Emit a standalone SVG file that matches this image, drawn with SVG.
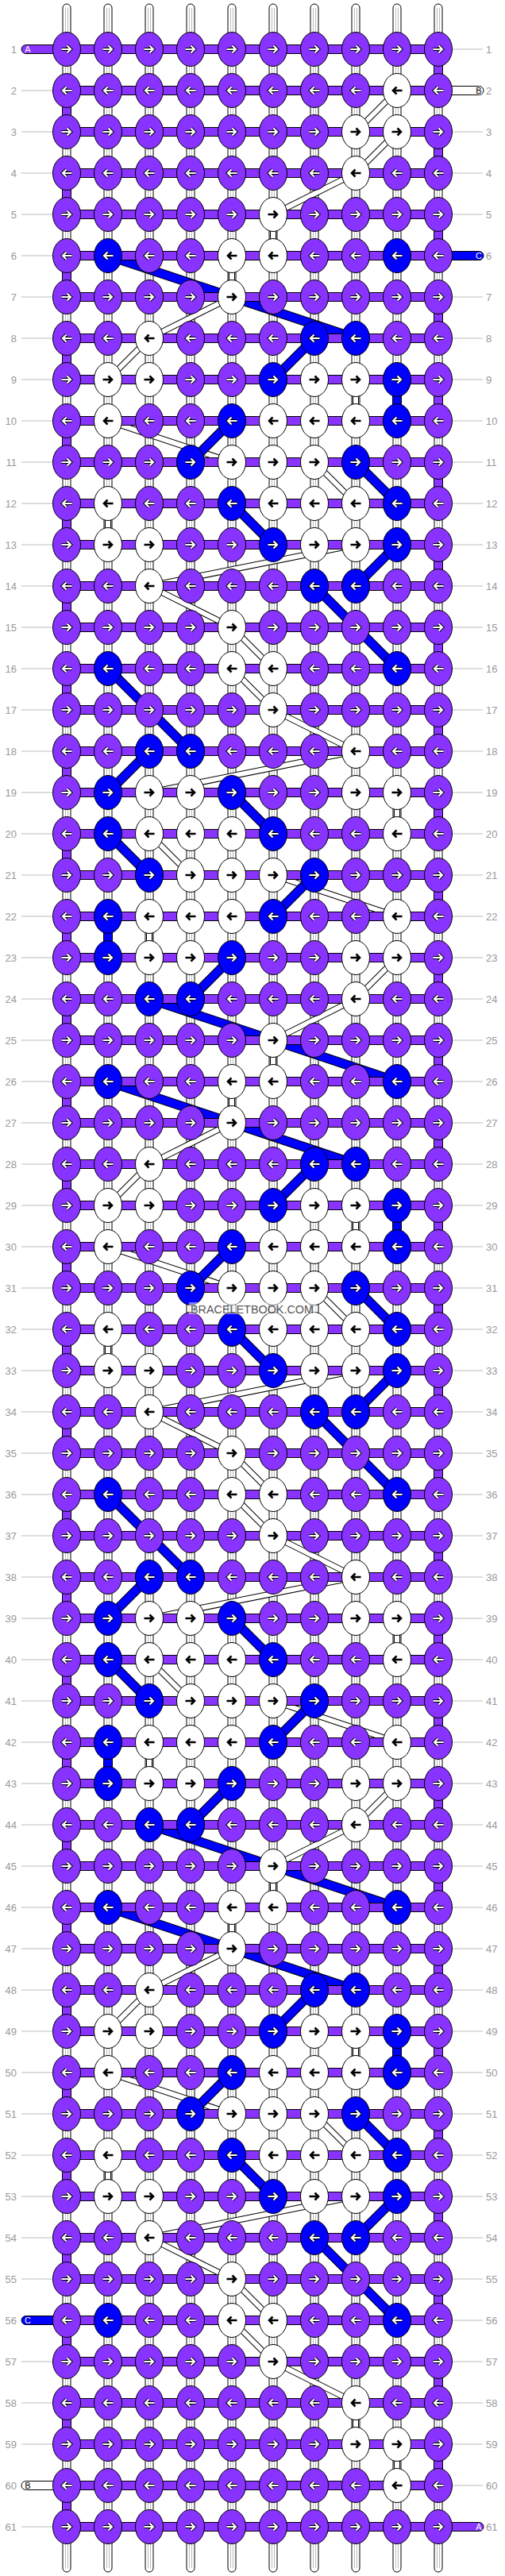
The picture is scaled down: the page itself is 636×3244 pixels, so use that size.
<svg xmlns="http://www.w3.org/2000/svg" width="636" height="3244" viewBox="0 0 636 3244">
<style>
.kp{fill:#8833ff;stroke:#000;stroke-width:1}
.kw{fill:#fff;stroke:#000;stroke-width:1}
.kb{fill:#0000ff;stroke:#000;stroke-width:1}
.ao{fill:none;stroke:#000;stroke-width:4.2}
.ai{fill:none;stroke:#fff;stroke-width:2.2}
.ab{fill:none;stroke:#000;stroke-width:2.6}
.st{fill:#fff;stroke:#000;stroke-width:1}
.sg{fill:none;stroke:#bbb;stroke-width:1}
.ln{font-family:"Liberation Sans",Arial,sans-serif;font-size:13px;fill:#999;text-anchor:end}
.rn{text-anchor:start}
.gl{fill:none;stroke:#bbb;stroke-width:1}
.tl{font-family:"Liberation Sans",Arial,sans-serif;font-size:11px;text-anchor:middle}
</style>
<defs>
<path id="ar" d="M-6.5,0H4.5M0.5,-4.5L5,0L0.5,4.5"/>
<path id="al" d="M6.5,0H-4.5M-0.5,-4.5L-5,0L-0.5,4.5"/>
<g id="pR"><ellipse rx="17.5" ry="21.5" class="kp"/><use href="#ar" class="ao"/><use href="#ar" class="ai"/></g>
<g id="pL"><ellipse rx="17.5" ry="21.5" class="kp"/><use href="#al" class="ao"/><use href="#al" class="ai"/></g>
<g id="bR"><ellipse rx="17.5" ry="21.5" class="kb"/><use href="#ar" class="ao"/><use href="#ar" class="ai"/></g>
<g id="bL"><ellipse rx="17.5" ry="21.5" class="kb"/><use href="#al" class="ao"/><use href="#al" class="ai"/></g>
<g id="wR"><ellipse rx="17.5" ry="21.5" class="kw"/><use href="#ar" class="ab"/></g>
<g id="wL"><ellipse rx="17.5" ry="21.5" class="kw"/><use href="#al" class="ab"/></g>
</defs>
<rect width="636" height="3244" fill="#fff"/>
<g id="strands">
<rect x="79" y="5" width="10" height="3234" rx="5" class="st"/>
<rect x="131" y="5" width="10" height="3234" rx="5" class="st"/>
<rect x="183" y="5" width="10" height="3234" rx="5" class="st"/>
<rect x="235" y="5" width="10" height="3234" rx="5" class="st"/>
<rect x="287" y="5" width="10" height="3234" rx="5" class="st"/>
<rect x="339" y="5" width="10" height="3234" rx="5" class="st"/>
<rect x="391" y="5" width="10" height="3234" rx="5" class="st"/>
<rect x="443" y="5" width="10" height="3234" rx="5" class="st"/>
<rect x="495" y="5" width="10" height="3234" rx="5" class="st"/>
<rect x="547" y="5" width="10" height="3234" rx="5" class="st"/>
<path class="sg" d="M82.5,10V3234M85.5,10V3234M134.5,10V3234M137.5,10V3234M186.5,10V3234M189.5,10V3234M238.5,10V3234M241.5,10V3234M290.5,10V3234M293.5,10V3234M342.5,10V3234M345.5,10V3234M394.5,10V3234M397.5,10V3234M446.5,10V3234M449.5,10V3234M498.5,10V3234M501.5,10V3234M550.5,10V3234M553.5,10V3234"/>
</g>
<g id="connectors">
<path id="edgeO" fill="none" stroke="#000" stroke-width="12" d="M552,80v16M84,132v16M552,184v16M84,236v16M552,288v16M84,340v16M552,392v16M84,444v16M552,496v16M84,548v16M552,600v16M84,652v16M552,704v16M84,756v16M552,808v16M84,860v16M552,912v16M84,964v16M552,1016v16M84,1068v16M552,1120v16M84,1172v16M552,1224v16M84,1276v16M552,1328v16M84,1380v16M552,1432v16M84,1484v16M552,1536v16M84,1588v16M552,1640v16M84,1692v16M552,1744v16M84,1796v16M552,1848v16M84,1900v16M552,1952v16M84,2004v16M552,2056v16M84,2108v16M552,2160v16M84,2212v16M552,2264v16M84,2316v16M552,2368v16M84,2420v16M552,2472v16M84,2524v16M552,2576v16M84,2628v16M552,2680v16M84,2732v16M552,2784v16M84,2836v16M552,2888v16M84,2940v16M552,2992v16M84,3044v16M552,3096v16M84,3148v16"/>
<path id="edgeI" fill="none" stroke="#8833ff" stroke-width="10" d="M552,80v16M84,132v16M552,184v16M84,236v16M552,288v16M84,340v16M552,392v16M84,444v16M552,496v16M84,548v16M552,600v16M84,652v16M552,704v16M84,756v16M552,808v16M84,860v16M552,912v16M84,964v16M552,1016v16M84,1068v16M552,1120v16M84,1172v16M552,1224v16M84,1276v16M552,1328v16M84,1380v16M552,1432v16M84,1484v16M552,1536v16M84,1588v16M552,1640v16M84,1692v16M552,1744v16M84,1796v16M552,1848v16M84,1900v16M552,1952v16M84,2004v16M552,2056v16M84,2108v16M552,2160v16M84,2212v16M552,2264v16M84,2316v16M552,2368v16M84,2420v16M552,2472v16M84,2524v16M552,2576v16M84,2628v16M552,2680v16M84,2732v16M552,2784v16M84,2836v16M552,2888v16M84,2940v16M552,2992v16M84,3044v16M552,3096v16M84,3148v16"/>
<path id="floatW" fill="none" d="M500,114L448,166M500,166L448,218M448,218L344,270M344,270L344,322M292,322L292,374M292,374L188,426M188,426L136,478M448,478L448,530M136,530L292,582M396,582L448,634M136,634L136,686M448,686L188,738M188,738L292,790M292,790L344,842M292,842L344,894M344,894L448,946M448,946L188,998M500,998L500,1050M188,1050L240,1102M344,1102L500,1154M188,1154L188,1206M500,1206L448,1258M448,1258L344,1310M344,1310L344,1362M292,1362L292,1414M292,1414L188,1466M188,1466L136,1518M448,1518L448,1570M136,1570L292,1622M396,1622L448,1674M136,1674L136,1726M448,1726L188,1778M188,1778L292,1830M292,1830L344,1882M292,1882L344,1934M344,1934L448,1986M448,1986L188,2038M500,2038L500,2090M188,2090L240,2142M344,2142L500,2194M188,2194L188,2246M500,2246L448,2298M448,2298L344,2350M344,2350L344,2402M292,2402L292,2454M292,2454L188,2506M188,2506L136,2558M448,2558L448,2610M136,2610L292,2662M396,2662L448,2714M136,2714L136,2766M448,2766L188,2818M188,2818L292,2870M292,2870L344,2922M292,2922L344,2974M344,2974L448,3026M448,3026L448,3078M500,3078L500,3130"/>
<use href="#floatW" stroke="#000" stroke-width="8"/>
<use href="#floatW" stroke="#fff" stroke-width="6"/>
<path id="floatB" fill="none" d="M136,322L448,426M396,426L344,478M500,478L500,530M292,530L240,582M448,582L500,634M292,634L344,686M500,686L448,738M396,738L500,842M136,842L240,946M188,946L136,998M292,998L344,1050M136,1050L188,1102M396,1102L344,1154M136,1154L136,1206M292,1206L240,1258M188,1258L500,1362M136,1362L448,1466M396,1466L344,1518M500,1518L500,1570M292,1570L240,1622M448,1622L500,1674M292,1674L344,1726M500,1726L448,1778M396,1778L500,1882M136,1882L240,1986M188,1986L136,2038M292,2038L344,2090M136,2090L188,2142M396,2142L344,2194M136,2194L136,2246M292,2246L240,2298M188,2298L500,2402M136,2402L448,2506M396,2506L344,2558M500,2558L500,2610M292,2610L240,2662M448,2662L500,2714M292,2714L344,2766M500,2766L448,2818M396,2818L500,2922"/>
<use href="#floatB" stroke="#000" stroke-width="12"/>
<use href="#floatB" stroke="#0000ff" stroke-width="10"/>
<path id="bars" fill="none" d="M84,62H552M84,114H552M84,166H552M84,218H552M84,270H552M84,322H552M84,374H552M84,426H552M84,478H552M84,530H552M84,582H552M84,634H552M84,686H552M84,738H552M84,790H552M84,842H552M84,894H552M84,946H552M84,998H552M84,1050H552M84,1102H552M84,1154H552M84,1206H552M84,1258H552M84,1310H552M84,1362H552M84,1414H552M84,1466H552M84,1518H552M84,1570H552M84,1622H552M84,1674H552M84,1726H552M84,1778H552M84,1830H552M84,1882H552M84,1934H552M84,1986H552M84,2038H552M84,2090H552M84,2142H552M84,2194H552M84,2246H552M84,2298H552M84,2350H552M84,2402H552M84,2454H552M84,2506H552M84,2558H552M84,2610H552M84,2662H552M84,2714H552M84,2766H552M84,2818H552M84,2870H552M84,2922H552M84,2974H552M84,3026H552M84,3078H552M84,3130H552M84,3182H552"/>
<use href="#bars" stroke="#000" stroke-width="12"/>
<use href="#bars" stroke="#8833ff" stroke-width="10"/>
</g>
<g id="tabs">
<g id="tabA1"><rect x="27" y="56.5" width="62" height="11" rx="5.5" class="kp"/><text x="35" y="66" class="tl" fill="#fff">A</text></g>
<g id="tabB2"><rect x="547" y="108.5" width="62" height="11" rx="5.5" class="kw"/><text x="603" y="118" class="tl" fill="#000">B</text></g>
<g id="tabC6"><rect x="547" y="316.5" width="62" height="11" rx="5.5" class="kb"/><text x="603" y="326" class="tl" fill="#fff">C</text></g>
<g id="tabC56"><rect x="27" y="2916.5" width="62" height="11" rx="5.5" class="kb"/><text x="35" y="2926" class="tl" fill="#fff">C</text></g>
<g id="tabB60"><rect x="27" y="3124.5" width="62" height="11" rx="5.5" class="kw"/><text x="35" y="3134" class="tl" fill="#000">B</text></g>
<g id="tabA61"><rect x="547" y="3176.5" width="62" height="11" rx="5.5" class="kp"/><text x="603" y="3186" class="tl" fill="#fff">A</text></g>
</g>
<g id="knots">
<g id="r1" transform="translate(0,62)"><g id="k1-1"><use href="#pR" x="84"/></g><g id="k1-2"><use href="#pR" x="136"/></g><g id="k1-3"><use href="#pR" x="188"/></g><g id="k1-4"><use href="#pR" x="240"/></g><g id="k1-5"><use href="#pR" x="292"/></g><g id="k1-6"><use href="#pR" x="344"/></g><g id="k1-7"><use href="#pR" x="396"/></g><g id="k1-8"><use href="#pR" x="448"/></g><g id="k1-9"><use href="#pR" x="500"/></g><g id="k1-10"><use href="#pR" x="552"/></g></g>
<g id="r2" transform="translate(0,114)"><g id="k2-1"><use href="#pL" x="84"/></g><g id="k2-2"><use href="#pL" x="136"/></g><g id="k2-3"><use href="#pL" x="188"/></g><g id="k2-4"><use href="#pL" x="240"/></g><g id="k2-5"><use href="#pL" x="292"/></g><g id="k2-6"><use href="#pL" x="344"/></g><g id="k2-7"><use href="#pL" x="396"/></g><g id="k2-8"><use href="#pL" x="448"/></g><g id="k2-9"><use href="#wL" x="500"/></g><g id="k2-10"><use href="#pL" x="552"/></g></g>
<g id="r3" transform="translate(0,166)"><g id="k3-1"><use href="#pR" x="84"/></g><g id="k3-2"><use href="#pR" x="136"/></g><g id="k3-3"><use href="#pR" x="188"/></g><g id="k3-4"><use href="#pR" x="240"/></g><g id="k3-5"><use href="#pR" x="292"/></g><g id="k3-6"><use href="#pR" x="344"/></g><g id="k3-7"><use href="#pR" x="396"/></g><g id="k3-8"><use href="#wR" x="448"/></g><g id="k3-9"><use href="#wR" x="500"/></g><g id="k3-10"><use href="#pR" x="552"/></g></g>
<g id="r4" transform="translate(0,218)"><g id="k4-1"><use href="#pL" x="84"/></g><g id="k4-2"><use href="#pL" x="136"/></g><g id="k4-3"><use href="#pL" x="188"/></g><g id="k4-4"><use href="#pL" x="240"/></g><g id="k4-5"><use href="#pL" x="292"/></g><g id="k4-6"><use href="#pL" x="344"/></g><g id="k4-7"><use href="#pL" x="396"/></g><g id="k4-8"><use href="#wL" x="448"/></g><g id="k4-9"><use href="#pL" x="500"/></g><g id="k4-10"><use href="#pL" x="552"/></g></g>
<g id="r5" transform="translate(0,270)"><g id="k5-1"><use href="#pR" x="84"/></g><g id="k5-2"><use href="#pR" x="136"/></g><g id="k5-3"><use href="#pR" x="188"/></g><g id="k5-4"><use href="#pR" x="240"/></g><g id="k5-5"><use href="#pR" x="292"/></g><g id="k5-6"><use href="#wR" x="344"/></g><g id="k5-7"><use href="#pR" x="396"/></g><g id="k5-8"><use href="#pR" x="448"/></g><g id="k5-9"><use href="#pR" x="500"/></g><g id="k5-10"><use href="#pR" x="552"/></g></g>
<g id="r6" transform="translate(0,322)"><g id="k6-1"><use href="#pL" x="84"/></g><g id="k6-2"><use href="#bL" x="136"/></g><g id="k6-3"><use href="#pL" x="188"/></g><g id="k6-4"><use href="#pL" x="240"/></g><g id="k6-5"><use href="#wL" x="292"/></g><g id="k6-6"><use href="#wL" x="344"/></g><g id="k6-7"><use href="#pL" x="396"/></g><g id="k6-8"><use href="#pL" x="448"/></g><g id="k6-9"><use href="#bL" x="500"/></g><g id="k6-10"><use href="#pL" x="552"/></g></g>
<g id="r7" transform="translate(0,374)"><g id="k7-1"><use href="#pR" x="84"/></g><g id="k7-2"><use href="#pR" x="136"/></g><g id="k7-3"><use href="#pR" x="188"/></g><g id="k7-4"><use href="#pR" x="240"/></g><g id="k7-5"><use href="#wR" x="292"/></g><g id="k7-6"><use href="#pR" x="344"/></g><g id="k7-7"><use href="#pR" x="396"/></g><g id="k7-8"><use href="#pR" x="448"/></g><g id="k7-9"><use href="#pR" x="500"/></g><g id="k7-10"><use href="#pR" x="552"/></g></g>
<g id="r8" transform="translate(0,426)"><g id="k8-1"><use href="#pL" x="84"/></g><g id="k8-2"><use href="#pL" x="136"/></g><g id="k8-3"><use href="#wL" x="188"/></g><g id="k8-4"><use href="#pL" x="240"/></g><g id="k8-5"><use href="#pL" x="292"/></g><g id="k8-6"><use href="#pL" x="344"/></g><g id="k8-7"><use href="#bL" x="396"/></g><g id="k8-8"><use href="#bL" x="448"/></g><g id="k8-9"><use href="#pL" x="500"/></g><g id="k8-10"><use href="#pL" x="552"/></g></g>
<g id="r9" transform="translate(0,478)"><g id="k9-1"><use href="#pR" x="84"/></g><g id="k9-2"><use href="#wR" x="136"/></g><g id="k9-3"><use href="#wR" x="188"/></g><g id="k9-4"><use href="#pR" x="240"/></g><g id="k9-5"><use href="#pR" x="292"/></g><g id="k9-6"><use href="#bR" x="344"/></g><g id="k9-7"><use href="#wR" x="396"/></g><g id="k9-8"><use href="#wR" x="448"/></g><g id="k9-9"><use href="#bR" x="500"/></g><g id="k9-10"><use href="#pR" x="552"/></g></g>
<g id="r10" transform="translate(0,530)"><g id="k10-1"><use href="#pL" x="84"/></g><g id="k10-2"><use href="#wL" x="136"/></g><g id="k10-3"><use href="#pL" x="188"/></g><g id="k10-4"><use href="#pL" x="240"/></g><g id="k10-5"><use href="#bL" x="292"/></g><g id="k10-6"><use href="#wL" x="344"/></g><g id="k10-7"><use href="#wL" x="396"/></g><g id="k10-8"><use href="#wL" x="448"/></g><g id="k10-9"><use href="#bL" x="500"/></g><g id="k10-10"><use href="#pL" x="552"/></g></g>
<g id="r11" transform="translate(0,582)"><g id="k11-1"><use href="#pR" x="84"/></g><g id="k11-2"><use href="#pR" x="136"/></g><g id="k11-3"><use href="#pR" x="188"/></g><g id="k11-4"><use href="#bR" x="240"/></g><g id="k11-5"><use href="#wR" x="292"/></g><g id="k11-6"><use href="#wR" x="344"/></g><g id="k11-7"><use href="#wR" x="396"/></g><g id="k11-8"><use href="#bR" x="448"/></g><g id="k11-9"><use href="#pR" x="500"/></g><g id="k11-10"><use href="#pR" x="552"/></g></g>
<g id="r12" transform="translate(0,634)"><g id="k12-1"><use href="#pL" x="84"/></g><g id="k12-2"><use href="#wL" x="136"/></g><g id="k12-3"><use href="#pL" x="188"/></g><g id="k12-4"><use href="#pL" x="240"/></g><g id="k12-5"><use href="#bL" x="292"/></g><g id="k12-6"><use href="#wL" x="344"/></g><g id="k12-7"><use href="#wL" x="396"/></g><g id="k12-8"><use href="#wL" x="448"/></g><g id="k12-9"><use href="#bL" x="500"/></g><g id="k12-10"><use href="#pL" x="552"/></g></g>
<g id="r13" transform="translate(0,686)"><g id="k13-1"><use href="#pR" x="84"/></g><g id="k13-2"><use href="#wR" x="136"/></g><g id="k13-3"><use href="#wR" x="188"/></g><g id="k13-4"><use href="#pR" x="240"/></g><g id="k13-5"><use href="#pR" x="292"/></g><g id="k13-6"><use href="#bR" x="344"/></g><g id="k13-7"><use href="#wR" x="396"/></g><g id="k13-8"><use href="#wR" x="448"/></g><g id="k13-9"><use href="#bR" x="500"/></g><g id="k13-10"><use href="#pR" x="552"/></g></g>
<g id="r14" transform="translate(0,738)"><g id="k14-1"><use href="#pL" x="84"/></g><g id="k14-2"><use href="#pL" x="136"/></g><g id="k14-3"><use href="#wL" x="188"/></g><g id="k14-4"><use href="#pL" x="240"/></g><g id="k14-5"><use href="#pL" x="292"/></g><g id="k14-6"><use href="#pL" x="344"/></g><g id="k14-7"><use href="#bL" x="396"/></g><g id="k14-8"><use href="#bL" x="448"/></g><g id="k14-9"><use href="#pL" x="500"/></g><g id="k14-10"><use href="#pL" x="552"/></g></g>
<g id="r15" transform="translate(0,790)"><g id="k15-1"><use href="#pR" x="84"/></g><g id="k15-2"><use href="#pR" x="136"/></g><g id="k15-3"><use href="#pR" x="188"/></g><g id="k15-4"><use href="#pR" x="240"/></g><g id="k15-5"><use href="#wR" x="292"/></g><g id="k15-6"><use href="#pR" x="344"/></g><g id="k15-7"><use href="#pR" x="396"/></g><g id="k15-8"><use href="#pR" x="448"/></g><g id="k15-9"><use href="#pR" x="500"/></g><g id="k15-10"><use href="#pR" x="552"/></g></g>
<g id="r16" transform="translate(0,842)"><g id="k16-1"><use href="#pL" x="84"/></g><g id="k16-2"><use href="#bL" x="136"/></g><g id="k16-3"><use href="#pL" x="188"/></g><g id="k16-4"><use href="#pL" x="240"/></g><g id="k16-5"><use href="#wL" x="292"/></g><g id="k16-6"><use href="#wL" x="344"/></g><g id="k16-7"><use href="#pL" x="396"/></g><g id="k16-8"><use href="#pL" x="448"/></g><g id="k16-9"><use href="#bL" x="500"/></g><g id="k16-10"><use href="#pL" x="552"/></g></g>
<g id="r17" transform="translate(0,894)"><g id="k17-1"><use href="#pR" x="84"/></g><g id="k17-2"><use href="#pR" x="136"/></g><g id="k17-3"><use href="#pR" x="188"/></g><g id="k17-4"><use href="#pR" x="240"/></g><g id="k17-5"><use href="#pR" x="292"/></g><g id="k17-6"><use href="#wR" x="344"/></g><g id="k17-7"><use href="#pR" x="396"/></g><g id="k17-8"><use href="#pR" x="448"/></g><g id="k17-9"><use href="#pR" x="500"/></g><g id="k17-10"><use href="#pR" x="552"/></g></g>
<g id="r18" transform="translate(0,946)"><g id="k18-1"><use href="#pL" x="84"/></g><g id="k18-2"><use href="#pL" x="136"/></g><g id="k18-3"><use href="#bL" x="188"/></g><g id="k18-4"><use href="#bL" x="240"/></g><g id="k18-5"><use href="#pL" x="292"/></g><g id="k18-6"><use href="#pL" x="344"/></g><g id="k18-7"><use href="#pL" x="396"/></g><g id="k18-8"><use href="#wL" x="448"/></g><g id="k18-9"><use href="#pL" x="500"/></g><g id="k18-10"><use href="#pL" x="552"/></g></g>
<g id="r19" transform="translate(0,998)"><g id="k19-1"><use href="#pR" x="84"/></g><g id="k19-2"><use href="#bR" x="136"/></g><g id="k19-3"><use href="#wR" x="188"/></g><g id="k19-4"><use href="#wR" x="240"/></g><g id="k19-5"><use href="#bR" x="292"/></g><g id="k19-6"><use href="#pR" x="344"/></g><g id="k19-7"><use href="#pR" x="396"/></g><g id="k19-8"><use href="#wR" x="448"/></g><g id="k19-9"><use href="#wR" x="500"/></g><g id="k19-10"><use href="#pR" x="552"/></g></g>
<g id="r20" transform="translate(0,1050)"><g id="k20-1"><use href="#pL" x="84"/></g><g id="k20-2"><use href="#bL" x="136"/></g><g id="k20-3"><use href="#wL" x="188"/></g><g id="k20-4"><use href="#wL" x="240"/></g><g id="k20-5"><use href="#wL" x="292"/></g><g id="k20-6"><use href="#bL" x="344"/></g><g id="k20-7"><use href="#pL" x="396"/></g><g id="k20-8"><use href="#pL" x="448"/></g><g id="k20-9"><use href="#wL" x="500"/></g><g id="k20-10"><use href="#pL" x="552"/></g></g>
<g id="r21" transform="translate(0,1102)"><g id="k21-1"><use href="#pR" x="84"/></g><g id="k21-2"><use href="#pR" x="136"/></g><g id="k21-3"><use href="#bR" x="188"/></g><g id="k21-4"><use href="#wR" x="240"/></g><g id="k21-5"><use href="#wR" x="292"/></g><g id="k21-6"><use href="#wR" x="344"/></g><g id="k21-7"><use href="#bR" x="396"/></g><g id="k21-8"><use href="#pR" x="448"/></g><g id="k21-9"><use href="#pR" x="500"/></g><g id="k21-10"><use href="#pR" x="552"/></g></g>
<g id="r22" transform="translate(0,1154)"><g id="k22-1"><use href="#pL" x="84"/></g><g id="k22-2"><use href="#bL" x="136"/></g><g id="k22-3"><use href="#wL" x="188"/></g><g id="k22-4"><use href="#wL" x="240"/></g><g id="k22-5"><use href="#wL" x="292"/></g><g id="k22-6"><use href="#bL" x="344"/></g><g id="k22-7"><use href="#pL" x="396"/></g><g id="k22-8"><use href="#pL" x="448"/></g><g id="k22-9"><use href="#wL" x="500"/></g><g id="k22-10"><use href="#pL" x="552"/></g></g>
<g id="r23" transform="translate(0,1206)"><g id="k23-1"><use href="#pR" x="84"/></g><g id="k23-2"><use href="#bR" x="136"/></g><g id="k23-3"><use href="#wR" x="188"/></g><g id="k23-4"><use href="#wR" x="240"/></g><g id="k23-5"><use href="#bR" x="292"/></g><g id="k23-6"><use href="#pR" x="344"/></g><g id="k23-7"><use href="#pR" x="396"/></g><g id="k23-8"><use href="#wR" x="448"/></g><g id="k23-9"><use href="#wR" x="500"/></g><g id="k23-10"><use href="#pR" x="552"/></g></g>
<g id="r24" transform="translate(0,1258)"><g id="k24-1"><use href="#pL" x="84"/></g><g id="k24-2"><use href="#pL" x="136"/></g><g id="k24-3"><use href="#bL" x="188"/></g><g id="k24-4"><use href="#bL" x="240"/></g><g id="k24-5"><use href="#pL" x="292"/></g><g id="k24-6"><use href="#pL" x="344"/></g><g id="k24-7"><use href="#pL" x="396"/></g><g id="k24-8"><use href="#wL" x="448"/></g><g id="k24-9"><use href="#pL" x="500"/></g><g id="k24-10"><use href="#pL" x="552"/></g></g>
<g id="r25" transform="translate(0,1310)"><g id="k25-1"><use href="#pR" x="84"/></g><g id="k25-2"><use href="#pR" x="136"/></g><g id="k25-3"><use href="#pR" x="188"/></g><g id="k25-4"><use href="#pR" x="240"/></g><g id="k25-5"><use href="#pR" x="292"/></g><g id="k25-6"><use href="#wR" x="344"/></g><g id="k25-7"><use href="#pR" x="396"/></g><g id="k25-8"><use href="#pR" x="448"/></g><g id="k25-9"><use href="#pR" x="500"/></g><g id="k25-10"><use href="#pR" x="552"/></g></g>
<g id="r26" transform="translate(0,1362)"><g id="k26-1"><use href="#pL" x="84"/></g><g id="k26-2"><use href="#bL" x="136"/></g><g id="k26-3"><use href="#pL" x="188"/></g><g id="k26-4"><use href="#pL" x="240"/></g><g id="k26-5"><use href="#wL" x="292"/></g><g id="k26-6"><use href="#wL" x="344"/></g><g id="k26-7"><use href="#pL" x="396"/></g><g id="k26-8"><use href="#pL" x="448"/></g><g id="k26-9"><use href="#bL" x="500"/></g><g id="k26-10"><use href="#pL" x="552"/></g></g>
<g id="r27" transform="translate(0,1414)"><g id="k27-1"><use href="#pR" x="84"/></g><g id="k27-2"><use href="#pR" x="136"/></g><g id="k27-3"><use href="#pR" x="188"/></g><g id="k27-4"><use href="#pR" x="240"/></g><g id="k27-5"><use href="#wR" x="292"/></g><g id="k27-6"><use href="#pR" x="344"/></g><g id="k27-7"><use href="#pR" x="396"/></g><g id="k27-8"><use href="#pR" x="448"/></g><g id="k27-9"><use href="#pR" x="500"/></g><g id="k27-10"><use href="#pR" x="552"/></g></g>
<g id="r28" transform="translate(0,1466)"><g id="k28-1"><use href="#pL" x="84"/></g><g id="k28-2"><use href="#pL" x="136"/></g><g id="k28-3"><use href="#wL" x="188"/></g><g id="k28-4"><use href="#pL" x="240"/></g><g id="k28-5"><use href="#pL" x="292"/></g><g id="k28-6"><use href="#pL" x="344"/></g><g id="k28-7"><use href="#bL" x="396"/></g><g id="k28-8"><use href="#bL" x="448"/></g><g id="k28-9"><use href="#pL" x="500"/></g><g id="k28-10"><use href="#pL" x="552"/></g></g>
<g id="r29" transform="translate(0,1518)"><g id="k29-1"><use href="#pR" x="84"/></g><g id="k29-2"><use href="#wR" x="136"/></g><g id="k29-3"><use href="#wR" x="188"/></g><g id="k29-4"><use href="#pR" x="240"/></g><g id="k29-5"><use href="#pR" x="292"/></g><g id="k29-6"><use href="#bR" x="344"/></g><g id="k29-7"><use href="#wR" x="396"/></g><g id="k29-8"><use href="#wR" x="448"/></g><g id="k29-9"><use href="#bR" x="500"/></g><g id="k29-10"><use href="#pR" x="552"/></g></g>
<g id="r30" transform="translate(0,1570)"><g id="k30-1"><use href="#pL" x="84"/></g><g id="k30-2"><use href="#wL" x="136"/></g><g id="k30-3"><use href="#pL" x="188"/></g><g id="k30-4"><use href="#pL" x="240"/></g><g id="k30-5"><use href="#bL" x="292"/></g><g id="k30-6"><use href="#wL" x="344"/></g><g id="k30-7"><use href="#wL" x="396"/></g><g id="k30-8"><use href="#wL" x="448"/></g><g id="k30-9"><use href="#bL" x="500"/></g><g id="k30-10"><use href="#pL" x="552"/></g></g>
<g id="r31" transform="translate(0,1622)"><g id="k31-1"><use href="#pR" x="84"/></g><g id="k31-2"><use href="#pR" x="136"/></g><g id="k31-3"><use href="#pR" x="188"/></g><g id="k31-4"><use href="#bR" x="240"/></g><g id="k31-5"><use href="#wR" x="292"/></g><g id="k31-6"><use href="#wR" x="344"/></g><g id="k31-7"><use href="#wR" x="396"/></g><g id="k31-8"><use href="#bR" x="448"/></g><g id="k31-9"><use href="#pR" x="500"/></g><g id="k31-10"><use href="#pR" x="552"/></g></g>
<g id="r32" transform="translate(0,1674)"><g id="k32-1"><use href="#pL" x="84"/></g><g id="k32-2"><use href="#wL" x="136"/></g><g id="k32-3"><use href="#pL" x="188"/></g><g id="k32-4"><use href="#pL" x="240"/></g><g id="k32-5"><use href="#bL" x="292"/></g><g id="k32-6"><use href="#wL" x="344"/></g><g id="k32-7"><use href="#wL" x="396"/></g><g id="k32-8"><use href="#wL" x="448"/></g><g id="k32-9"><use href="#bL" x="500"/></g><g id="k32-10"><use href="#pL" x="552"/></g></g>
<g id="r33" transform="translate(0,1726)"><g id="k33-1"><use href="#pR" x="84"/></g><g id="k33-2"><use href="#wR" x="136"/></g><g id="k33-3"><use href="#wR" x="188"/></g><g id="k33-4"><use href="#pR" x="240"/></g><g id="k33-5"><use href="#pR" x="292"/></g><g id="k33-6"><use href="#bR" x="344"/></g><g id="k33-7"><use href="#wR" x="396"/></g><g id="k33-8"><use href="#wR" x="448"/></g><g id="k33-9"><use href="#bR" x="500"/></g><g id="k33-10"><use href="#pR" x="552"/></g></g>
<g id="r34" transform="translate(0,1778)"><g id="k34-1"><use href="#pL" x="84"/></g><g id="k34-2"><use href="#pL" x="136"/></g><g id="k34-3"><use href="#wL" x="188"/></g><g id="k34-4"><use href="#pL" x="240"/></g><g id="k34-5"><use href="#pL" x="292"/></g><g id="k34-6"><use href="#pL" x="344"/></g><g id="k34-7"><use href="#bL" x="396"/></g><g id="k34-8"><use href="#bL" x="448"/></g><g id="k34-9"><use href="#pL" x="500"/></g><g id="k34-10"><use href="#pL" x="552"/></g></g>
<g id="r35" transform="translate(0,1830)"><g id="k35-1"><use href="#pR" x="84"/></g><g id="k35-2"><use href="#pR" x="136"/></g><g id="k35-3"><use href="#pR" x="188"/></g><g id="k35-4"><use href="#pR" x="240"/></g><g id="k35-5"><use href="#wR" x="292"/></g><g id="k35-6"><use href="#pR" x="344"/></g><g id="k35-7"><use href="#pR" x="396"/></g><g id="k35-8"><use href="#pR" x="448"/></g><g id="k35-9"><use href="#pR" x="500"/></g><g id="k35-10"><use href="#pR" x="552"/></g></g>
<g id="r36" transform="translate(0,1882)"><g id="k36-1"><use href="#pL" x="84"/></g><g id="k36-2"><use href="#bL" x="136"/></g><g id="k36-3"><use href="#pL" x="188"/></g><g id="k36-4"><use href="#pL" x="240"/></g><g id="k36-5"><use href="#wL" x="292"/></g><g id="k36-6"><use href="#wL" x="344"/></g><g id="k36-7"><use href="#pL" x="396"/></g><g id="k36-8"><use href="#pL" x="448"/></g><g id="k36-9"><use href="#bL" x="500"/></g><g id="k36-10"><use href="#pL" x="552"/></g></g>
<g id="r37" transform="translate(0,1934)"><g id="k37-1"><use href="#pR" x="84"/></g><g id="k37-2"><use href="#pR" x="136"/></g><g id="k37-3"><use href="#pR" x="188"/></g><g id="k37-4"><use href="#pR" x="240"/></g><g id="k37-5"><use href="#pR" x="292"/></g><g id="k37-6"><use href="#wR" x="344"/></g><g id="k37-7"><use href="#pR" x="396"/></g><g id="k37-8"><use href="#pR" x="448"/></g><g id="k37-9"><use href="#pR" x="500"/></g><g id="k37-10"><use href="#pR" x="552"/></g></g>
<g id="r38" transform="translate(0,1986)"><g id="k38-1"><use href="#pL" x="84"/></g><g id="k38-2"><use href="#pL" x="136"/></g><g id="k38-3"><use href="#bL" x="188"/></g><g id="k38-4"><use href="#bL" x="240"/></g><g id="k38-5"><use href="#pL" x="292"/></g><g id="k38-6"><use href="#pL" x="344"/></g><g id="k38-7"><use href="#pL" x="396"/></g><g id="k38-8"><use href="#wL" x="448"/></g><g id="k38-9"><use href="#pL" x="500"/></g><g id="k38-10"><use href="#pL" x="552"/></g></g>
<g id="r39" transform="translate(0,2038)"><g id="k39-1"><use href="#pR" x="84"/></g><g id="k39-2"><use href="#bR" x="136"/></g><g id="k39-3"><use href="#wR" x="188"/></g><g id="k39-4"><use href="#wR" x="240"/></g><g id="k39-5"><use href="#bR" x="292"/></g><g id="k39-6"><use href="#pR" x="344"/></g><g id="k39-7"><use href="#pR" x="396"/></g><g id="k39-8"><use href="#wR" x="448"/></g><g id="k39-9"><use href="#wR" x="500"/></g><g id="k39-10"><use href="#pR" x="552"/></g></g>
<g id="r40" transform="translate(0,2090)"><g id="k40-1"><use href="#pL" x="84"/></g><g id="k40-2"><use href="#bL" x="136"/></g><g id="k40-3"><use href="#wL" x="188"/></g><g id="k40-4"><use href="#wL" x="240"/></g><g id="k40-5"><use href="#wL" x="292"/></g><g id="k40-6"><use href="#bL" x="344"/></g><g id="k40-7"><use href="#pL" x="396"/></g><g id="k40-8"><use href="#pL" x="448"/></g><g id="k40-9"><use href="#wL" x="500"/></g><g id="k40-10"><use href="#pL" x="552"/></g></g>
<g id="r41" transform="translate(0,2142)"><g id="k41-1"><use href="#pR" x="84"/></g><g id="k41-2"><use href="#pR" x="136"/></g><g id="k41-3"><use href="#bR" x="188"/></g><g id="k41-4"><use href="#wR" x="240"/></g><g id="k41-5"><use href="#wR" x="292"/></g><g id="k41-6"><use href="#wR" x="344"/></g><g id="k41-7"><use href="#bR" x="396"/></g><g id="k41-8"><use href="#pR" x="448"/></g><g id="k41-9"><use href="#pR" x="500"/></g><g id="k41-10"><use href="#pR" x="552"/></g></g>
<g id="r42" transform="translate(0,2194)"><g id="k42-1"><use href="#pL" x="84"/></g><g id="k42-2"><use href="#bL" x="136"/></g><g id="k42-3"><use href="#wL" x="188"/></g><g id="k42-4"><use href="#wL" x="240"/></g><g id="k42-5"><use href="#wL" x="292"/></g><g id="k42-6"><use href="#bL" x="344"/></g><g id="k42-7"><use href="#pL" x="396"/></g><g id="k42-8"><use href="#pL" x="448"/></g><g id="k42-9"><use href="#wL" x="500"/></g><g id="k42-10"><use href="#pL" x="552"/></g></g>
<g id="r43" transform="translate(0,2246)"><g id="k43-1"><use href="#pR" x="84"/></g><g id="k43-2"><use href="#bR" x="136"/></g><g id="k43-3"><use href="#wR" x="188"/></g><g id="k43-4"><use href="#wR" x="240"/></g><g id="k43-5"><use href="#bR" x="292"/></g><g id="k43-6"><use href="#pR" x="344"/></g><g id="k43-7"><use href="#pR" x="396"/></g><g id="k43-8"><use href="#wR" x="448"/></g><g id="k43-9"><use href="#wR" x="500"/></g><g id="k43-10"><use href="#pR" x="552"/></g></g>
<g id="r44" transform="translate(0,2298)"><g id="k44-1"><use href="#pL" x="84"/></g><g id="k44-2"><use href="#pL" x="136"/></g><g id="k44-3"><use href="#bL" x="188"/></g><g id="k44-4"><use href="#bL" x="240"/></g><g id="k44-5"><use href="#pL" x="292"/></g><g id="k44-6"><use href="#pL" x="344"/></g><g id="k44-7"><use href="#pL" x="396"/></g><g id="k44-8"><use href="#wL" x="448"/></g><g id="k44-9"><use href="#pL" x="500"/></g><g id="k44-10"><use href="#pL" x="552"/></g></g>
<g id="r45" transform="translate(0,2350)"><g id="k45-1"><use href="#pR" x="84"/></g><g id="k45-2"><use href="#pR" x="136"/></g><g id="k45-3"><use href="#pR" x="188"/></g><g id="k45-4"><use href="#pR" x="240"/></g><g id="k45-5"><use href="#pR" x="292"/></g><g id="k45-6"><use href="#wR" x="344"/></g><g id="k45-7"><use href="#pR" x="396"/></g><g id="k45-8"><use href="#pR" x="448"/></g><g id="k45-9"><use href="#pR" x="500"/></g><g id="k45-10"><use href="#pR" x="552"/></g></g>
<g id="r46" transform="translate(0,2402)"><g id="k46-1"><use href="#pL" x="84"/></g><g id="k46-2"><use href="#bL" x="136"/></g><g id="k46-3"><use href="#pL" x="188"/></g><g id="k46-4"><use href="#pL" x="240"/></g><g id="k46-5"><use href="#wL" x="292"/></g><g id="k46-6"><use href="#wL" x="344"/></g><g id="k46-7"><use href="#pL" x="396"/></g><g id="k46-8"><use href="#pL" x="448"/></g><g id="k46-9"><use href="#bL" x="500"/></g><g id="k46-10"><use href="#pL" x="552"/></g></g>
<g id="r47" transform="translate(0,2454)"><g id="k47-1"><use href="#pR" x="84"/></g><g id="k47-2"><use href="#pR" x="136"/></g><g id="k47-3"><use href="#pR" x="188"/></g><g id="k47-4"><use href="#pR" x="240"/></g><g id="k47-5"><use href="#wR" x="292"/></g><g id="k47-6"><use href="#pR" x="344"/></g><g id="k47-7"><use href="#pR" x="396"/></g><g id="k47-8"><use href="#pR" x="448"/></g><g id="k47-9"><use href="#pR" x="500"/></g><g id="k47-10"><use href="#pR" x="552"/></g></g>
<g id="r48" transform="translate(0,2506)"><g id="k48-1"><use href="#pL" x="84"/></g><g id="k48-2"><use href="#pL" x="136"/></g><g id="k48-3"><use href="#wL" x="188"/></g><g id="k48-4"><use href="#pL" x="240"/></g><g id="k48-5"><use href="#pL" x="292"/></g><g id="k48-6"><use href="#pL" x="344"/></g><g id="k48-7"><use href="#bL" x="396"/></g><g id="k48-8"><use href="#bL" x="448"/></g><g id="k48-9"><use href="#pL" x="500"/></g><g id="k48-10"><use href="#pL" x="552"/></g></g>
<g id="r49" transform="translate(0,2558)"><g id="k49-1"><use href="#pR" x="84"/></g><g id="k49-2"><use href="#wR" x="136"/></g><g id="k49-3"><use href="#wR" x="188"/></g><g id="k49-4"><use href="#pR" x="240"/></g><g id="k49-5"><use href="#pR" x="292"/></g><g id="k49-6"><use href="#bR" x="344"/></g><g id="k49-7"><use href="#wR" x="396"/></g><g id="k49-8"><use href="#wR" x="448"/></g><g id="k49-9"><use href="#bR" x="500"/></g><g id="k49-10"><use href="#pR" x="552"/></g></g>
<g id="r50" transform="translate(0,2610)"><g id="k50-1"><use href="#pL" x="84"/></g><g id="k50-2"><use href="#wL" x="136"/></g><g id="k50-3"><use href="#pL" x="188"/></g><g id="k50-4"><use href="#pL" x="240"/></g><g id="k50-5"><use href="#bL" x="292"/></g><g id="k50-6"><use href="#wL" x="344"/></g><g id="k50-7"><use href="#wL" x="396"/></g><g id="k50-8"><use href="#wL" x="448"/></g><g id="k50-9"><use href="#bL" x="500"/></g><g id="k50-10"><use href="#pL" x="552"/></g></g>
<g id="r51" transform="translate(0,2662)"><g id="k51-1"><use href="#pR" x="84"/></g><g id="k51-2"><use href="#pR" x="136"/></g><g id="k51-3"><use href="#pR" x="188"/></g><g id="k51-4"><use href="#bR" x="240"/></g><g id="k51-5"><use href="#wR" x="292"/></g><g id="k51-6"><use href="#wR" x="344"/></g><g id="k51-7"><use href="#wR" x="396"/></g><g id="k51-8"><use href="#bR" x="448"/></g><g id="k51-9"><use href="#pR" x="500"/></g><g id="k51-10"><use href="#pR" x="552"/></g></g>
<g id="r52" transform="translate(0,2714)"><g id="k52-1"><use href="#pL" x="84"/></g><g id="k52-2"><use href="#wL" x="136"/></g><g id="k52-3"><use href="#pL" x="188"/></g><g id="k52-4"><use href="#pL" x="240"/></g><g id="k52-5"><use href="#bL" x="292"/></g><g id="k52-6"><use href="#wL" x="344"/></g><g id="k52-7"><use href="#wL" x="396"/></g><g id="k52-8"><use href="#wL" x="448"/></g><g id="k52-9"><use href="#bL" x="500"/></g><g id="k52-10"><use href="#pL" x="552"/></g></g>
<g id="r53" transform="translate(0,2766)"><g id="k53-1"><use href="#pR" x="84"/></g><g id="k53-2"><use href="#wR" x="136"/></g><g id="k53-3"><use href="#wR" x="188"/></g><g id="k53-4"><use href="#pR" x="240"/></g><g id="k53-5"><use href="#pR" x="292"/></g><g id="k53-6"><use href="#bR" x="344"/></g><g id="k53-7"><use href="#wR" x="396"/></g><g id="k53-8"><use href="#wR" x="448"/></g><g id="k53-9"><use href="#bR" x="500"/></g><g id="k53-10"><use href="#pR" x="552"/></g></g>
<g id="r54" transform="translate(0,2818)"><g id="k54-1"><use href="#pL" x="84"/></g><g id="k54-2"><use href="#pL" x="136"/></g><g id="k54-3"><use href="#wL" x="188"/></g><g id="k54-4"><use href="#pL" x="240"/></g><g id="k54-5"><use href="#pL" x="292"/></g><g id="k54-6"><use href="#pL" x="344"/></g><g id="k54-7"><use href="#bL" x="396"/></g><g id="k54-8"><use href="#bL" x="448"/></g><g id="k54-9"><use href="#pL" x="500"/></g><g id="k54-10"><use href="#pL" x="552"/></g></g>
<g id="r55" transform="translate(0,2870)"><g id="k55-1"><use href="#pR" x="84"/></g><g id="k55-2"><use href="#pR" x="136"/></g><g id="k55-3"><use href="#pR" x="188"/></g><g id="k55-4"><use href="#pR" x="240"/></g><g id="k55-5"><use href="#wR" x="292"/></g><g id="k55-6"><use href="#pR" x="344"/></g><g id="k55-7"><use href="#pR" x="396"/></g><g id="k55-8"><use href="#pR" x="448"/></g><g id="k55-9"><use href="#pR" x="500"/></g><g id="k55-10"><use href="#pR" x="552"/></g></g>
<g id="r56" transform="translate(0,2922)"><g id="k56-1"><use href="#pL" x="84"/></g><g id="k56-2"><use href="#bL" x="136"/></g><g id="k56-3"><use href="#pL" x="188"/></g><g id="k56-4"><use href="#pL" x="240"/></g><g id="k56-5"><use href="#wL" x="292"/></g><g id="k56-6"><use href="#wL" x="344"/></g><g id="k56-7"><use href="#pL" x="396"/></g><g id="k56-8"><use href="#pL" x="448"/></g><g id="k56-9"><use href="#bL" x="500"/></g><g id="k56-10"><use href="#pL" x="552"/></g></g>
<g id="r57" transform="translate(0,2974)"><g id="k57-1"><use href="#pR" x="84"/></g><g id="k57-2"><use href="#pR" x="136"/></g><g id="k57-3"><use href="#pR" x="188"/></g><g id="k57-4"><use href="#pR" x="240"/></g><g id="k57-5"><use href="#pR" x="292"/></g><g id="k57-6"><use href="#wR" x="344"/></g><g id="k57-7"><use href="#pR" x="396"/></g><g id="k57-8"><use href="#pR" x="448"/></g><g id="k57-9"><use href="#pR" x="500"/></g><g id="k57-10"><use href="#pR" x="552"/></g></g>
<g id="r58" transform="translate(0,3026)"><g id="k58-1"><use href="#pL" x="84"/></g><g id="k58-2"><use href="#pL" x="136"/></g><g id="k58-3"><use href="#pL" x="188"/></g><g id="k58-4"><use href="#pL" x="240"/></g><g id="k58-5"><use href="#pL" x="292"/></g><g id="k58-6"><use href="#pL" x="344"/></g><g id="k58-7"><use href="#pL" x="396"/></g><g id="k58-8"><use href="#wL" x="448"/></g><g id="k58-9"><use href="#pL" x="500"/></g><g id="k58-10"><use href="#pL" x="552"/></g></g>
<g id="r59" transform="translate(0,3078)"><g id="k59-1"><use href="#pR" x="84"/></g><g id="k59-2"><use href="#pR" x="136"/></g><g id="k59-3"><use href="#pR" x="188"/></g><g id="k59-4"><use href="#pR" x="240"/></g><g id="k59-5"><use href="#pR" x="292"/></g><g id="k59-6"><use href="#pR" x="344"/></g><g id="k59-7"><use href="#pR" x="396"/></g><g id="k59-8"><use href="#wR" x="448"/></g><g id="k59-9"><use href="#wR" x="500"/></g><g id="k59-10"><use href="#pR" x="552"/></g></g>
<g id="r60" transform="translate(0,3130)"><g id="k60-1"><use href="#pL" x="84"/></g><g id="k60-2"><use href="#pL" x="136"/></g><g id="k60-3"><use href="#pL" x="188"/></g><g id="k60-4"><use href="#pL" x="240"/></g><g id="k60-5"><use href="#pL" x="292"/></g><g id="k60-6"><use href="#pL" x="344"/></g><g id="k60-7"><use href="#pL" x="396"/></g><g id="k60-8"><use href="#pL" x="448"/></g><g id="k60-9"><use href="#wL" x="500"/></g><g id="k60-10"><use href="#pL" x="552"/></g></g>
<g id="r61" transform="translate(0,3182)"><g id="k61-1"><use href="#pR" x="84"/></g><g id="k61-2"><use href="#pR" x="136"/></g><g id="k61-3"><use href="#pR" x="188"/></g><g id="k61-4"><use href="#pR" x="240"/></g><g id="k61-5"><use href="#pR" x="292"/></g><g id="k61-6"><use href="#pR" x="344"/></g><g id="k61-7"><use href="#pR" x="396"/></g><g id="k61-8"><use href="#pR" x="448"/></g><g id="k61-9"><use href="#pR" x="500"/></g><g id="k61-10"><use href="#pR" x="552"/></g></g>
</g>
<g id="rowlines">
<path class="gl" d="M27,114H66M27,166H66M27,218H66M27,270H66M27,322H66M27,374H66M27,426H66M27,478H66M27,530H66M27,582H66M27,634H66M27,686H66M27,738H66M27,790H66M27,842H66M27,894H66M27,946H66M27,998H66M27,1050H66M27,1102H66M27,1154H66M27,1206H66M27,1258H66M27,1310H66M27,1362H66M27,1414H66M27,1466H66M27,1518H66M27,1570H66M27,1622H66M27,1674H66M27,1726H66M27,1778H66M27,1830H66M27,1882H66M27,1934H66M27,1986H66M27,2038H66M27,2090H66M27,2142H66M27,2194H66M27,2246H66M27,2298H66M27,2350H66M27,2402H66M27,2454H66M27,2506H66M27,2558H66M27,2610H66M27,2662H66M27,2714H66M27,2766H66M27,2818H66M27,2870H66M27,2974H66M27,3026H66M27,3078H66M27,3182H66"/>
<path class="gl" d="M570,62H608M570,166H608M570,218H608M570,270H608M570,374H608M570,426H608M570,478H608M570,530H608M570,582H608M570,634H608M570,686H608M570,738H608M570,790H608M570,842H608M570,894H608M570,946H608M570,998H608M570,1050H608M570,1102H608M570,1154H608M570,1206H608M570,1258H608M570,1310H608M570,1362H608M570,1414H608M570,1466H608M570,1518H608M570,1570H608M570,1622H608M570,1674H608M570,1726H608M570,1778H608M570,1830H608M570,1882H608M570,1934H608M570,1986H608M570,2038H608M570,2090H608M570,2142H608M570,2194H608M570,2246H608M570,2298H608M570,2350H608M570,2402H608M570,2454H608M570,2506H608M570,2558H608M570,2610H608M570,2662H608M570,2714H608M570,2766H608M570,2818H608M570,2870H608M570,2922H608M570,2974H608M570,3026H608M570,3078H608M570,3130H608"/>
</g>
<g id="labels-left" class="ln">
<text x="21" y="66.5">1</text><text x="21" y="118.5">2</text><text x="21" y="170.5">3</text><text x="21" y="222.5">4</text><text x="21" y="274.5">5</text><text x="21" y="326.5">6</text><text x="21" y="378.5">7</text><text x="21" y="430.5">8</text><text x="21" y="482.5">9</text><text x="21" y="534.5">10</text><text x="21" y="586.5">11</text><text x="21" y="638.5">12</text><text x="21" y="690.5">13</text><text x="21" y="742.5">14</text><text x="21" y="794.5">15</text><text x="21" y="846.5">16</text><text x="21" y="898.5">17</text><text x="21" y="950.5">18</text><text x="21" y="1002.5">19</text><text x="21" y="1054.5">20</text><text x="21" y="1106.5">21</text><text x="21" y="1158.5">22</text><text x="21" y="1210.5">23</text><text x="21" y="1262.5">24</text><text x="21" y="1314.5">25</text><text x="21" y="1366.5">26</text><text x="21" y="1418.5">27</text><text x="21" y="1470.5">28</text><text x="21" y="1522.5">29</text><text x="21" y="1574.5">30</text><text x="21" y="1626.5">31</text><text x="21" y="1678.5">32</text><text x="21" y="1730.5">33</text><text x="21" y="1782.5">34</text><text x="21" y="1834.5">35</text><text x="21" y="1886.5">36</text><text x="21" y="1938.5">37</text><text x="21" y="1990.5">38</text><text x="21" y="2042.5">39</text><text x="21" y="2094.5">40</text><text x="21" y="2146.5">41</text><text x="21" y="2198.5">42</text><text x="21" y="2250.5">43</text><text x="21" y="2302.5">44</text><text x="21" y="2354.5">45</text><text x="21" y="2406.5">46</text><text x="21" y="2458.5">47</text><text x="21" y="2510.5">48</text><text x="21" y="2562.5">49</text><text x="21" y="2614.5">50</text><text x="21" y="2666.5">51</text><text x="21" y="2718.5">52</text><text x="21" y="2770.5">53</text><text x="21" y="2822.5">54</text><text x="21" y="2874.5">55</text><text x="21" y="2926.5">56</text><text x="21" y="2978.5">57</text><text x="21" y="3030.5">58</text><text x="21" y="3082.5">59</text><text x="21" y="3134.5">60</text><text x="21" y="3186.5">61</text>
</g>
<g id="labels-right" class="ln rn">
<text x="612" y="66.5">1</text><text x="612" y="118.5">2</text><text x="612" y="170.5">3</text><text x="612" y="222.5">4</text><text x="612" y="274.5">5</text><text x="612" y="326.5">6</text><text x="612" y="378.5">7</text><text x="612" y="430.5">8</text><text x="612" y="482.5">9</text><text x="612" y="534.5">10</text><text x="612" y="586.5">11</text><text x="612" y="638.5">12</text><text x="612" y="690.5">13</text><text x="612" y="742.5">14</text><text x="612" y="794.5">15</text><text x="612" y="846.5">16</text><text x="612" y="898.5">17</text><text x="612" y="950.5">18</text><text x="612" y="1002.5">19</text><text x="612" y="1054.5">20</text><text x="612" y="1106.5">21</text><text x="612" y="1158.5">22</text><text x="612" y="1210.5">23</text><text x="612" y="1262.5">24</text><text x="612" y="1314.5">25</text><text x="612" y="1366.5">26</text><text x="612" y="1418.5">27</text><text x="612" y="1470.5">28</text><text x="612" y="1522.5">29</text><text x="612" y="1574.5">30</text><text x="612" y="1626.5">31</text><text x="612" y="1678.5">32</text><text x="612" y="1730.5">33</text><text x="612" y="1782.5">34</text><text x="612" y="1834.5">35</text><text x="612" y="1886.5">36</text><text x="612" y="1938.5">37</text><text x="612" y="1990.5">38</text><text x="612" y="2042.5">39</text><text x="612" y="2094.5">40</text><text x="612" y="2146.5">41</text><text x="612" y="2198.5">42</text><text x="612" y="2250.5">43</text><text x="612" y="2302.5">44</text><text x="612" y="2354.5">45</text><text x="612" y="2406.5">46</text><text x="612" y="2458.5">47</text><text x="612" y="2510.5">48</text><text x="612" y="2562.5">49</text><text x="612" y="2614.5">50</text><text x="612" y="2666.5">51</text><text x="612" y="2718.5">52</text><text x="612" y="2770.5">53</text><text x="612" y="2822.5">54</text><text x="612" y="2874.5">55</text><text x="612" y="2926.5">56</text><text x="612" y="2978.5">57</text><text x="612" y="3030.5">58</text><text x="612" y="3082.5">59</text><text x="612" y="3134.5">60</text><text x="612" y="3186.5">61</text>
</g>
<g id="watermark">
<rect x="238" y="1640" width="160" height="15" fill="#fff" opacity="0.5"/>
<text x="317.5" y="1653.5" font-family="'Liberation Sans',Arial,sans-serif" font-size="15" fill="#555" text-anchor="middle" textLength="155" lengthAdjust="spacingAndGlyphs">BRACELETBOOK.COM</text>
</g>
</svg>
